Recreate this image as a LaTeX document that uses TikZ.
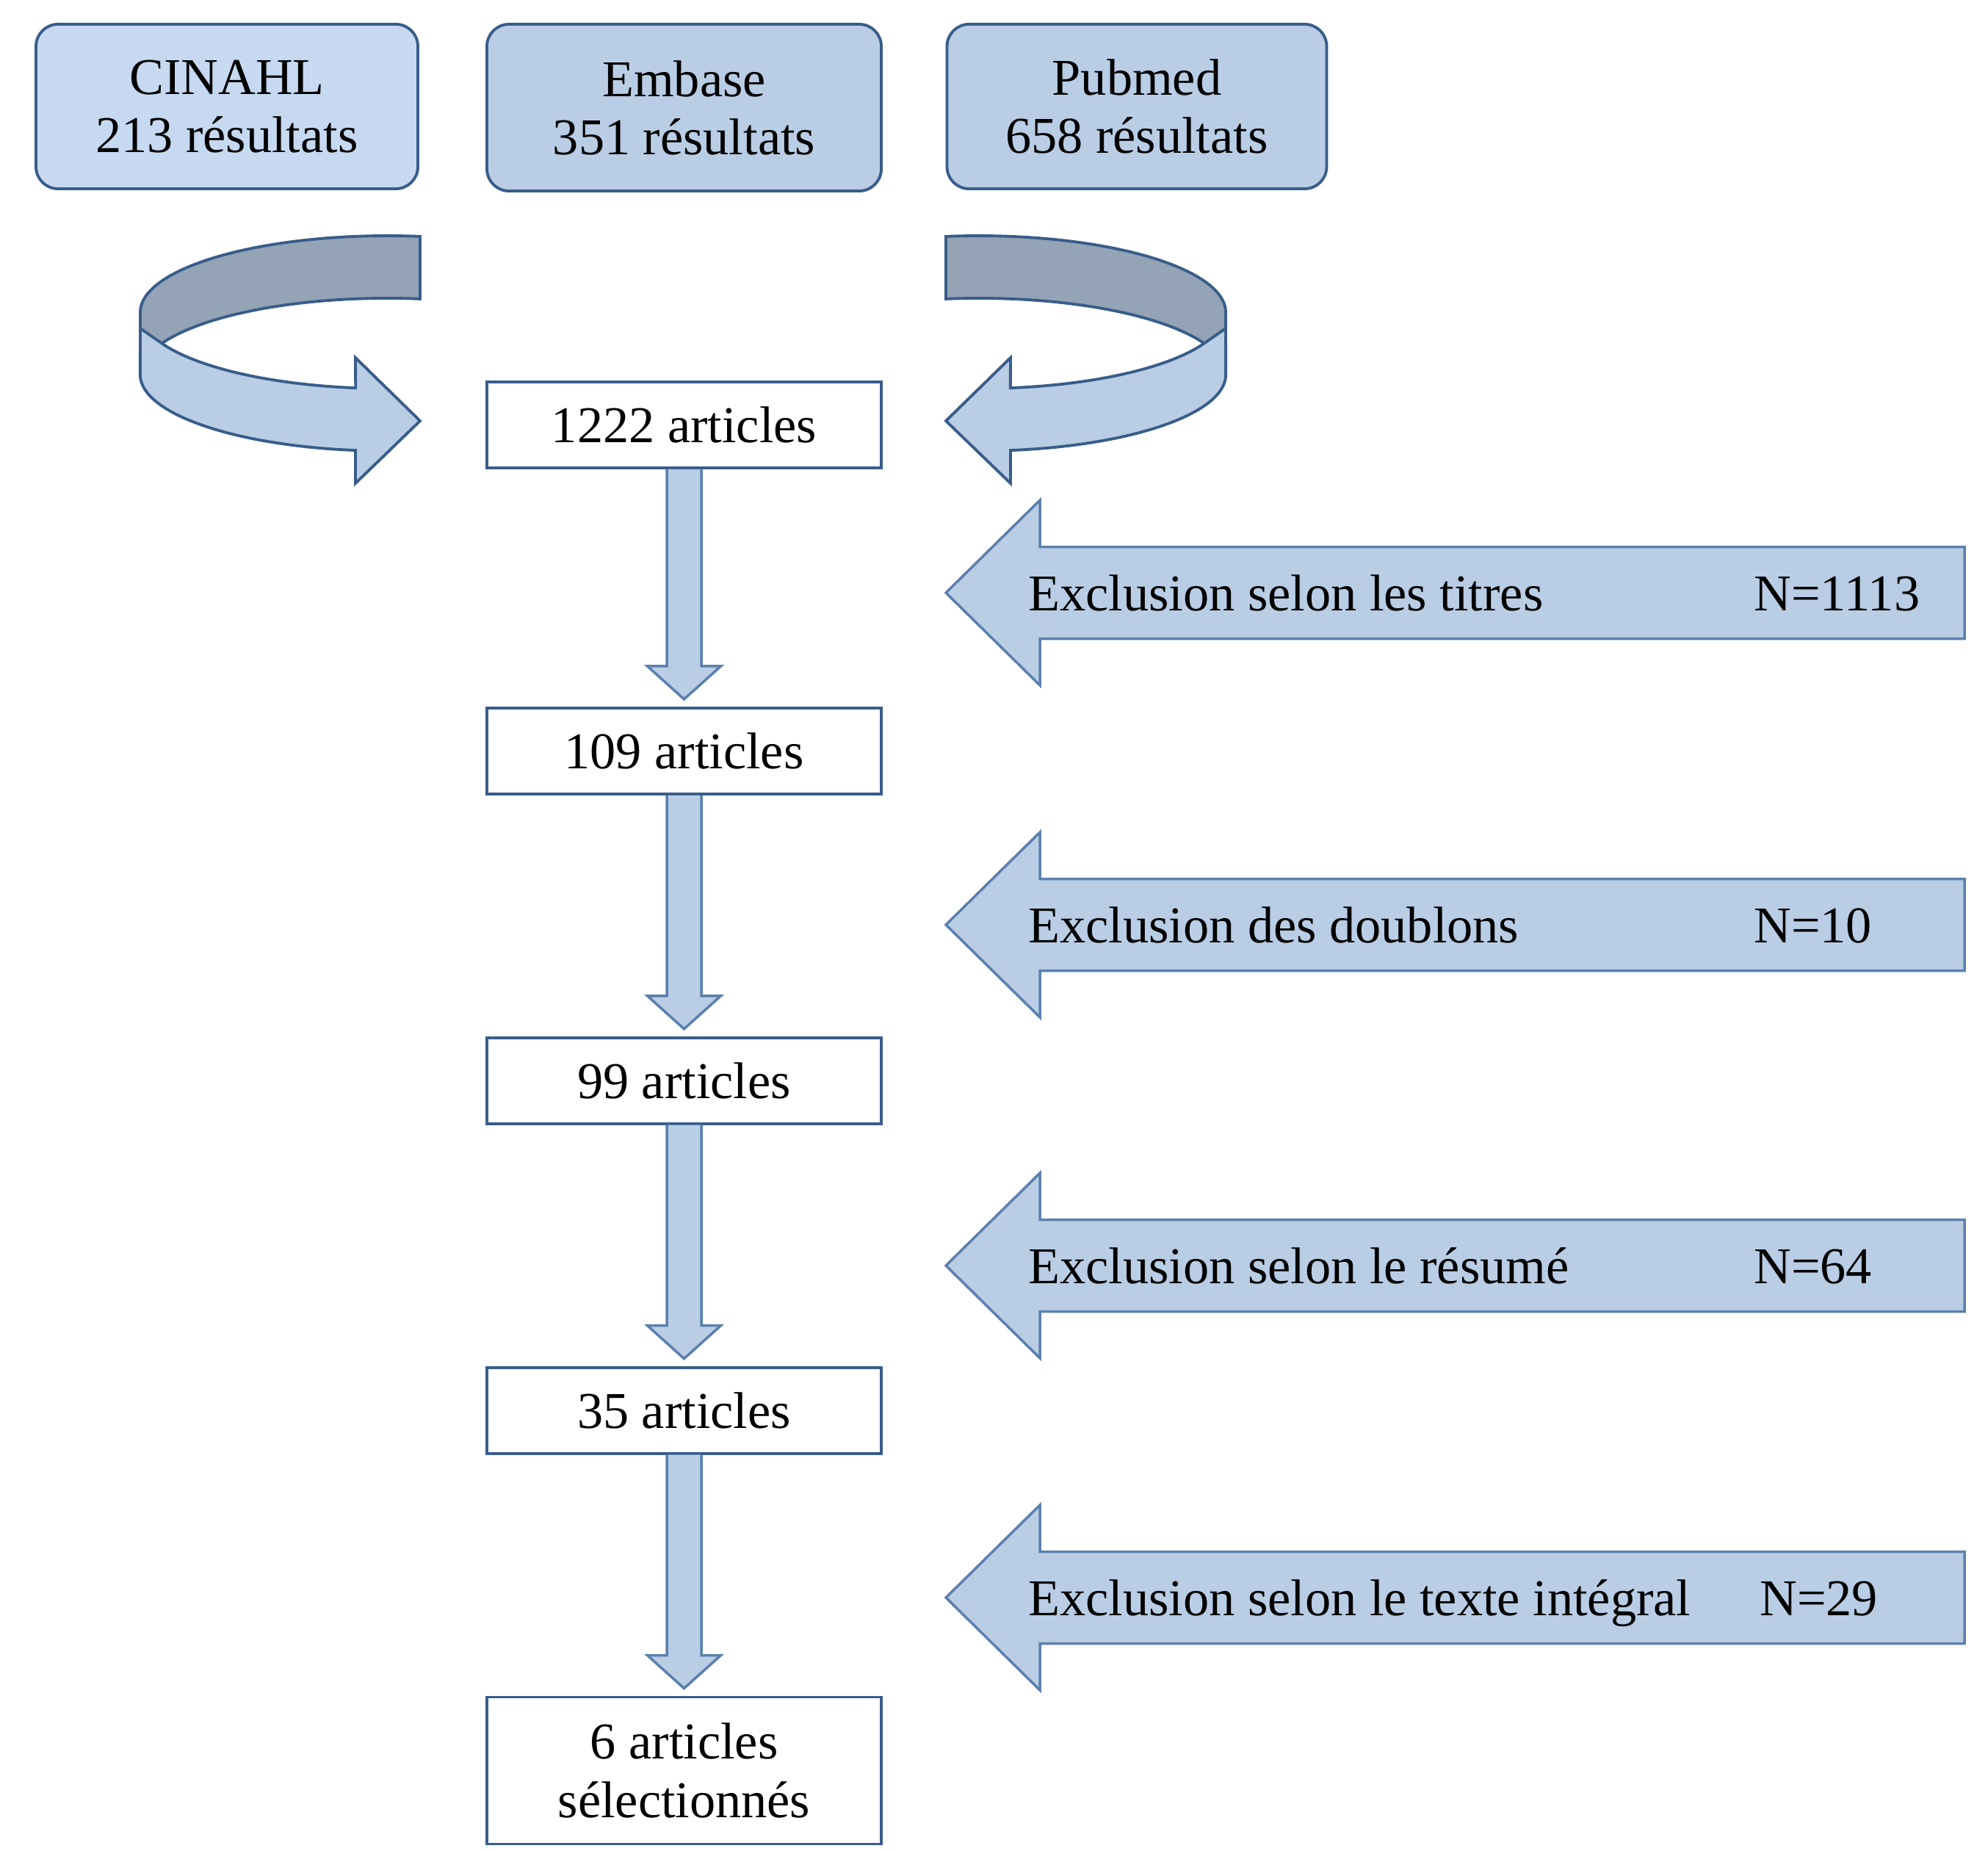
\documentclass[tikz,border=0pt]{standalone}
\usepackage{fontspec}
\setmainfont{Liberation Serif}
\usetikzlibrary{calc,positioning}

\definecolor{fillblue}{HTML}{B9CDE5}
\definecolor{filllight}{HTML}{C6D9F1}
\definecolor{edgeblue}{HTML}{385D8A}
\definecolor{flowedge}{HTML}{5B80AE}
\definecolor{backgray}{HTML}{94A3B5}

\begin{document}
\begin{tikzpicture}[
    every node/.style={font=\fontsize{20}{22.5}\selectfont},
    base/.style={draw=edgeblue, line width=1.1pt, fill=fillblue, rounded corners=3mm, align=center},
    count/.style={draw=edgeblue, line width=1.1pt, fill=white, minimum width=5.37cm,
      minimum height=1.17cm, align=center},
    flow/.style={draw=flowedge, line width=1pt, fill=fillblue, line join=miter},
    ribbon/.style={draw=edgeblue, line width=1.1pt, line join=miter}
  ]
  \useasboundingbox (0,0) rectangle (27.07,-25.20);

  % --- databases ---
  \node[base, fill=filllight, minimum width=5.2cm, minimum height=2.24cm] (cinahl) at (3.09,-1.45)
    {CINAHL\\213 résultats};
  \node[base, minimum width=5.37cm, minimum height=2.27cm] (embase) at (9.315,-1.465)
    {Embase\\351 résultats};
  \node[base, minimum width=5.17cm, minimum height=2.24cm] (pubmed) at (15.48,-1.45)
    {Pubmed\\658 résultats};

  % --- merge loops (left one, then its mirror) ---
  \foreach \s/\sh in {1/0, -1/18.6}{
    \begin{scope}[xshift=\sh cm, xscale=\s]
      % back part of the ribbon
      \draw[ribbon, fill=backgray] (5.72,-3.219)
        arc[start angle=82.4, end angle=180, x radius=3.365, y radius=1.04]
        -- ++(0,-0.85)
        arc[start angle=180, end angle=82.4, x radius=3.365, y radius=1.04] -- cycle;
      % front part with the head
      \draw[ribbon, fill=fillblue] (1.91,-4.47) -- (2.204,-4.675)
        arc[start angle=204.1, end angle=262.6, x radius=3.365, y radius=1.04]
        -- (4.84,-4.87) -- (5.72,-5.73) -- (4.84,-6.58) -- (4.84,-6.131)
        arc[start angle=262.6, end angle=180, x radius=3.365, y radius=1.04] -- cycle;
    \end{scope}
  }

  % --- counts ---
  \node[count] (n1222) at (9.315,-5.785) {1222 articles};
  \node[count, below=3.23cm of n1222] (n109) {109 articles};
  \node[count, below=3.28cm of n109] (n99) {99 articles};
  \node[count, below=3.28cm of n99] (n35) {35 articles};
  \node[count, minimum height=2.0cm, below=3.28cm of n35] (n6) {6 articles\\sélectionnés};

  % block arrows between the counts
  \foreach \a/\b in {n1222/n109, n109/n99, n99/n35, n35/n6}{
    \draw[flow] ([xshift=-2.35mm]\a.south) -- ([xshift=-2.35mm, yshift=5.5mm]\b.north)
      -- ([xshift=-5mm, yshift=5.5mm]\b.north) -- ([yshift=1mm]\b.north)
      -- ([xshift=5mm, yshift=5.5mm]\b.north) -- ([xshift=2.35mm, yshift=5.5mm]\b.north)
      -- ([xshift=2.35mm]\a.south);
  }

  % --- exclusions ---
  \foreach \y/\txt/\num/\nx [count=\i] in {
      8.07/Exclusion selon les titres/N=1113/23.76,
      12.59/Exclusion des doublons/N=10/23.76,
      17.23/Exclusion selon le résumé/N=64/23.76,
      21.75/Exclusion selon le texte intégral/N=29/23.84}{
    \draw[flow] (12.88,-\y) -- (14.16,-\y+1.26) -- (14.16,-\y+0.625) -- (26.75,-\y+0.625)
      -- (26.75,-\y-0.625) -- (14.16,-\y-0.625) -- (14.16,-\y-1.26) -- cycle;
    \node[anchor=base west] (excl\i) at (13.88,-\y-0.24) {\txt};
    \node[anchor=base west] (num\i) at (\nx,-\y-0.24) {\num};
  }
\end{tikzpicture}
\end{document}
